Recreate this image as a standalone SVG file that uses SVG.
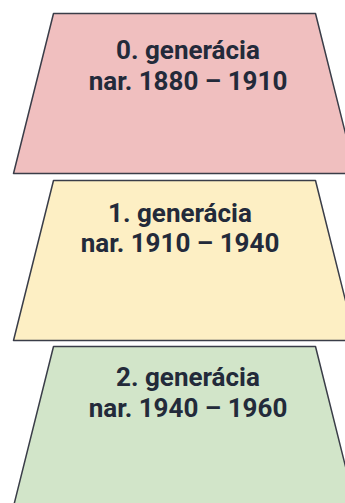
<svg xmlns="http://www.w3.org/2000/svg" width="345" height="503" viewBox="0 0 345 503">
<style>
.t{stroke:#3a3d48;stroke-width:1.5;stroke-linejoin:round}
.l{font-family:Roboto,"Liberation Sans",sans-serif;font-weight:bold;font-size:26px;fill:#232a3a;text-anchor:middle}
</style>
<rect width="345" height="503" fill="#ffffff"/>
<g id="gen0">
<path class="t" d="M53.5 13.5 L315.5 13.5 L355.5 173.5 L13.5 173.5 Z" fill="#f0bfbf"/>
<text class="l" x="188" y="59">0. generácia</text>
<text class="l" x="188" y="90">nar. 1880 – 1910</text>
</g>
<g id="gen1">
<path class="t" d="M53.5 180.5 L315.5 180.5 L355.5 340.5 L13.5 340.5 Z" fill="#fdefc4"/>
<text class="l" x="180" y="222">1. generácia</text>
<text class="l" x="180" y="252">nar. 1910 – 1940</text>
</g>
<g id="gen2">
<path class="t" d="M53.5 346.5 L315.5 346.5 L355.5 506.5 L13.5 506.5 Z" fill="#d2e5c9"/>
<text class="l" x="188" y="386">2. generácia</text>
<text class="l" x="188" y="417">nar. 1940 – 1960</text>
</g>
<g id="connectors"/>
</svg>
